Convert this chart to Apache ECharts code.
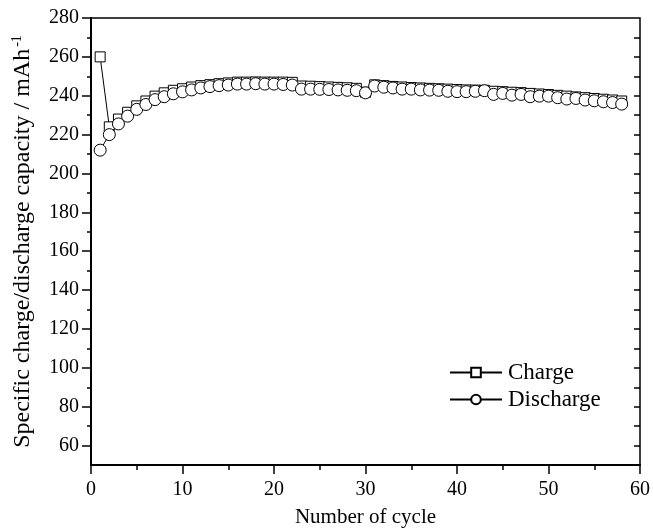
<!DOCTYPE html>
<html>
<head>
<meta charset="utf-8">
<script src="https://cdn.jsdelivr.net/npm/echarts@6/dist/echarts.min.js"></script>
<style>
html, body { margin: 0; padding: 0; background: #fff; }
#chart { width: 653px; height: 528px; }
</style>
</head>
<body>
<div id="chart"></div>
<script>
var cycles = [1, 2, 3, 4, 5, 6, 7, 8, 9, 10, 11, 12, 13, 14, 15, 16, 17, 18, 19, 20,
    21, 22, 23, 24, 25, 26, 27, 28, 29, 30, 31, 32, 33, 34, 35, 36, 37, 38, 39, 40,
    41, 42, 43, 44, 45, 46, 47, 48, 49, 50, 51, 52, 53, 54, 55, 56, 57, 58];

var chargeCap = [260, 224, 228, 231.5, 234.8, 237.3, 239.8, 241.5, 242.8, 243.6,
    244.5, 245.2, 245.7, 246.2, 246.6, 247, 247, 247.1, 247, 247,
    247, 246.9, 245, 244.9, 244.7, 244.5, 244.3, 244.1, 243.8, 241.8,
    245.6, 245.2, 244.8, 244.5, 244.2, 244, 243.8, 243.6, 243.4, 243.2,
    243, 242.9, 242.8, 242.3, 242.1, 241.8, 241.6, 241.2, 240.9, 240.6,
    240.2, 239.8, 239.4, 239, 238.6, 238.2, 237.8, 237.3];

var dischargeCap = [212, 220, 225.5, 229.5, 233, 235.5, 238, 239.5, 241, 242,
    243, 244, 244.7, 245.2, 245.5, 246, 246, 246.2, 246, 246,
    245.8, 245.5, 243.4, 243.4, 243.3, 243.2, 243, 242.8, 242.6, 241.5,
    245, 244.4, 244, 243.4, 243.4, 243, 242.9, 242.8, 242.3, 242.1,
    242.1, 242.3, 242.6, 240.7, 241.2, 240.3, 240.7, 239.5, 239.8, 239.8,
    239, 238.3, 238.6, 237.8, 237.4, 236.9, 236.5, 235.7];

var yMajorTicks = [60, 80, 100, 120, 140, 160, 180, 200, 220, 240, 260, 280];
var yMinorTicks = [70, 90, 110, 130, 150, 170, 190, 210, 230, 250, 270];
var yRightTicks = [60, 70, 80, 90, 100, 110, 120, 130, 140, 150, 160, 170, 180,
    190, 200, 210, 220, 230, 240, 250, 260, 270];

var font = 'Liberation Serif';

var myChart = echarts.init(document.getElementById('chart'));

function pairs(vals) {
    return cycles.map(function (c, i) { return [c, vals[i]]; });
}

var yBase = {
    type: 'value',
    min: 50,
    max: 280,
    splitLine: { show: false }
};

var option = {
    animation: false,
    backgroundColor: '#fff',
    grid: {
        left: 91, right: 13, top: 18, bottom: 63,
        outerBoundsMode: 'none',
        containLabel: false,
        show: true, borderColor: '#000', borderWidth: 1.5
    },
    legend: {
        orient: 'vertical',
        left: 449,
        top: 361,
        padding: 0,
        itemWidth: 52,
        itemHeight: 12,
        itemGap: 4,
        textStyle: { fontFamily: font, fontSize: 23, color: '#000', padding: [0, 0, 0, 1] },
        data: ['Charge', 'Discharge']
    },
    xAxis: {
        type: 'value',
        min: 0,
        max: 60,
        interval: 10,
        name: 'Number of cycle',
        nameLocation: 'middle',
        nameGap: 42,
        nameTextStyle: { fontFamily: font, fontSize: 21, color: '#000' },
        axisLine: { lineStyle: { color: '#000', width: 2 } },
        axisTick: { length: 9, lineStyle: { color: '#000', width: 1.5 } },
        minorTick: { show: true, splitNumber: 2, length: 5, lineStyle: { color: '#000', width: 1.5 } },
        axisLabel: { fontFamily: font, fontSize: 20, color: '#000', margin: 15 },
        splitLine: { show: false }
    },
    yAxis: [
        Object.assign({}, yBase, {
            position: 'left',
            name: 'Specific charge/discharge capacity / mAh{sup|-1}',
            nameLocation: 'middle',
            nameGap: 55,
            nameTextStyle: {
                fontFamily: font, fontSize: 24, color: '#000',
                rich: { sup: { fontFamily: font, fontSize: 14, color: '#000', verticalAlign: 'top', padding: [0, 0, 12, 2] } }
            },
            axisLine: { show: true, lineStyle: { color: '#000', width: 2 } },
            axisTick: { show: true, length: 9, customValues: yMajorTicks, lineStyle: { color: '#000', width: 1.5 } },
            axisLabel: { fontFamily: font, fontSize: 20, color: '#000', margin: 12, customValues: yMajorTicks }
        }),
        Object.assign({}, yBase, {
            position: 'left',
            axisLine: { show: false },
            axisTick: { show: true, length: 4, customValues: yMinorTicks, lineStyle: { color: '#000', width: 1.5 } },
            axisLabel: { show: false }
        }),
        Object.assign({}, yBase, {
            position: 'right',
            axisLine: { show: false },
            axisTick: { show: true, inside: true, length: 6, customValues: yRightTicks, lineStyle: { color: '#000', width: 1.5 } },
            axisLabel: { show: false }
        })
    ],
    series: [
        {
            name: 'Charge',
            type: 'line',
            data: pairs(chargeCap),
            symbol: 'rect',
            symbolSize: 10,
            z: 2,
            lineStyle: { color: '#000', width: 1 },
            itemStyle: { color: '#fff', borderColor: '#000', borderWidth: 1 }
        },
        {
            name: 'Discharge',
            type: 'line',
            data: pairs(dischargeCap),
            symbol: 'circle',
            symbolSize: 12,
            z: 3,
            lineStyle: { color: '#000', width: 1 },
            itemStyle: { color: '#fff', borderColor: '#000', borderWidth: 1 }
        }
    ]
};

myChart.setOption(option);
</script>
</body>
</html>
